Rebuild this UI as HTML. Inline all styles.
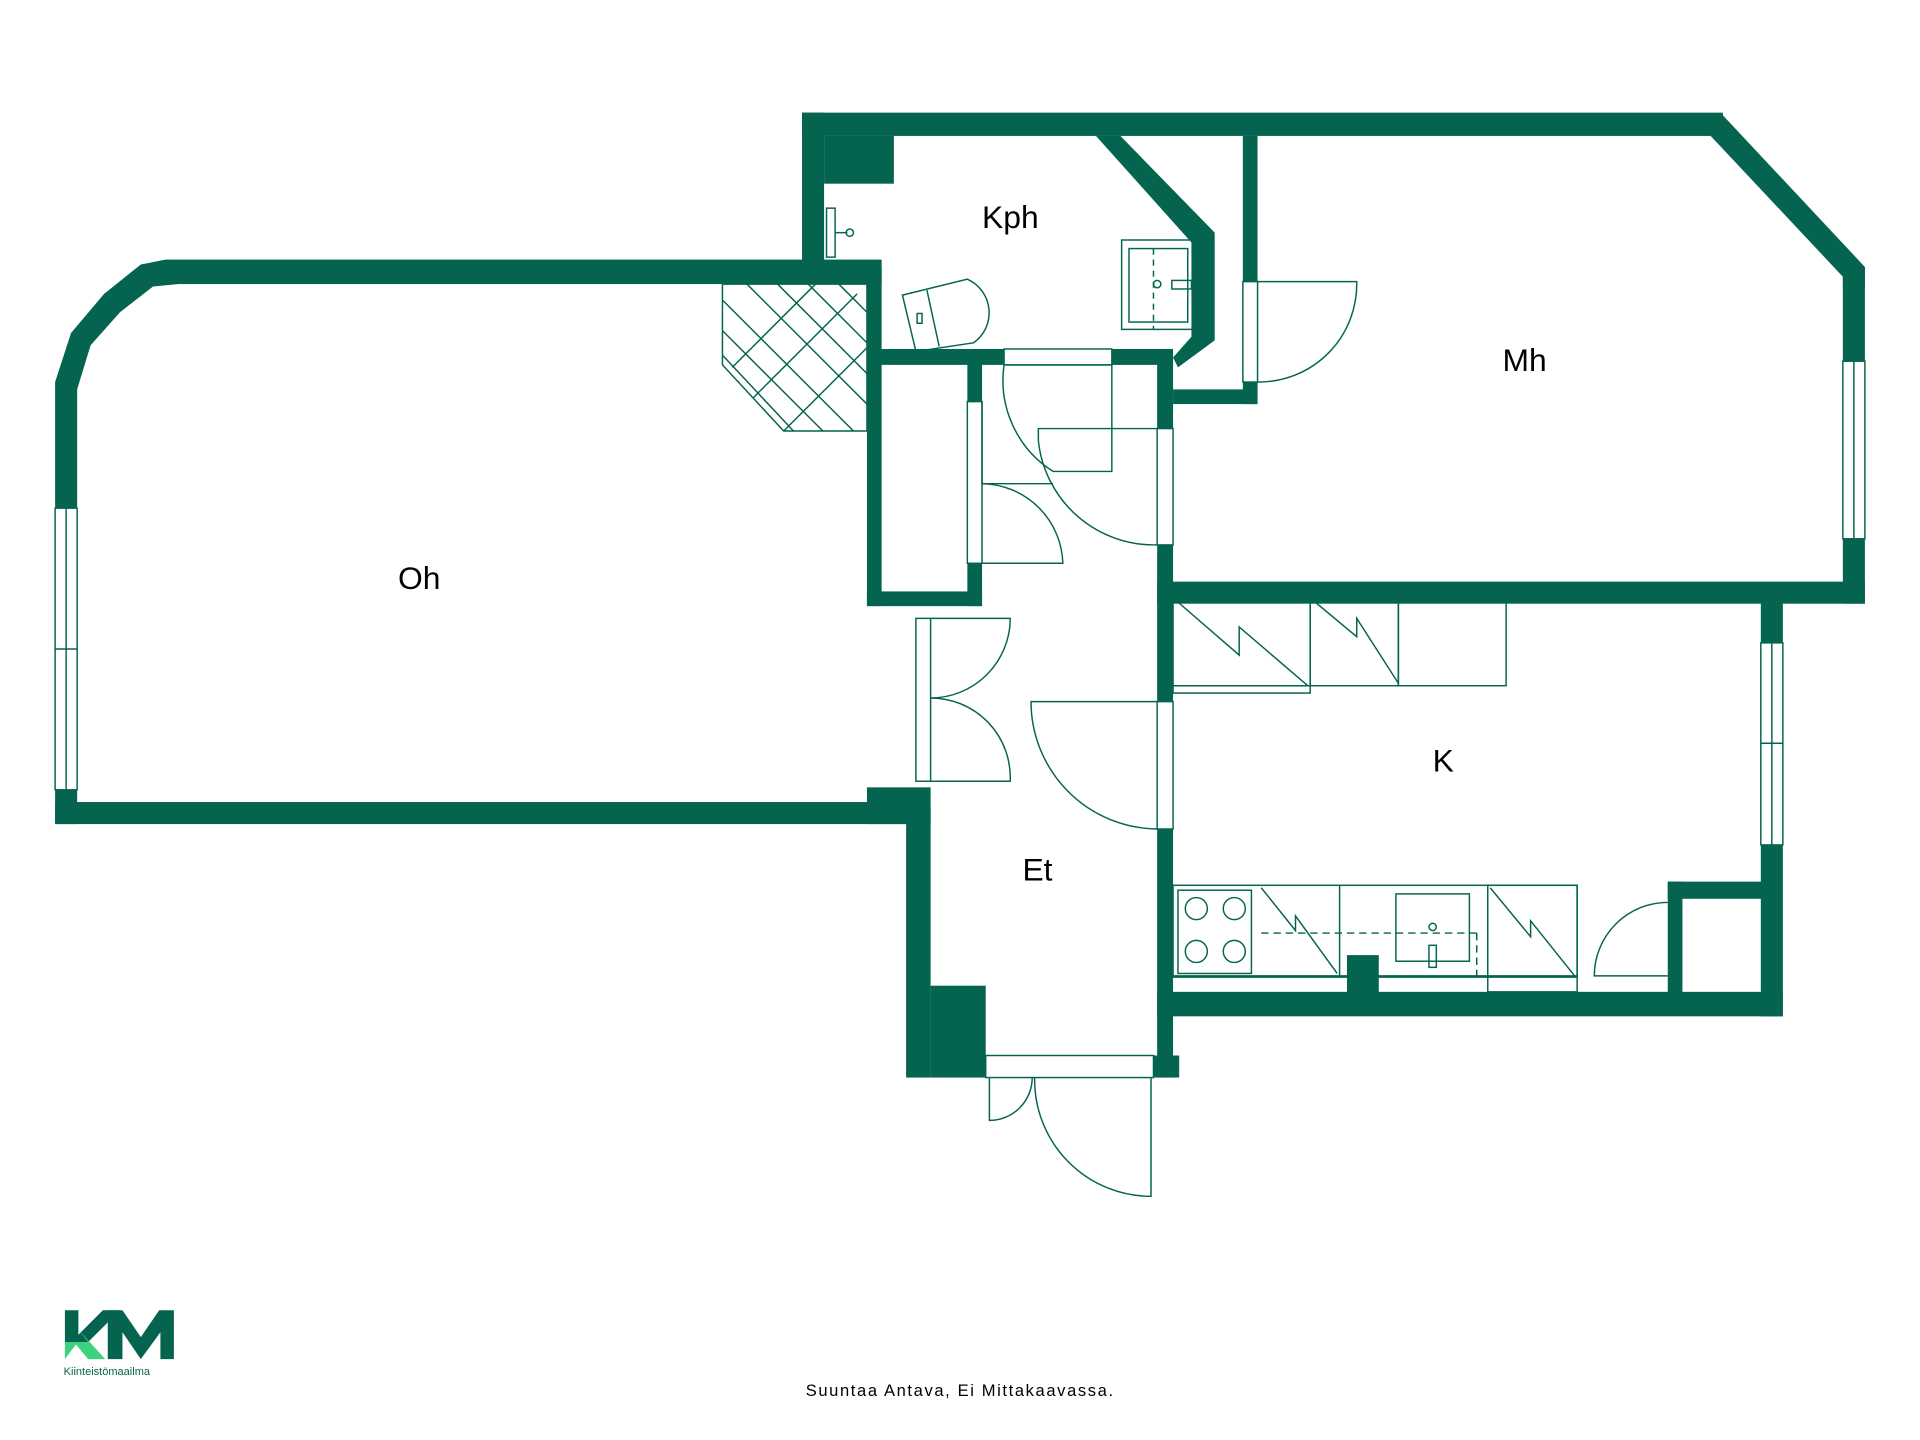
<!DOCTYPE html>
<html><head><meta charset="utf-8"><style>html,body{margin:0;padding:0;background:#fff}svg{display:block}</style></head>
<body>
<svg width="1920" height="1440" viewBox="0 0 1568 1176" xmlns="http://www.w3.org/2000/svg">
<g fill="#05644f">
<rect x="655" y="92" width="752" height="19"/>
<polygon points="1405,92 1523,218 1523,236 1505,236 1505,226 1397,111"/>
<rect x="1505" y="218" width="18" height="275"/>
<rect x="945" y="475" width="578" height="18"/>
<rect x="1438" y="488" width="18" height="342"/>
<rect x="945" y="810" width="511" height="20"/>
<rect x="1362" y="720" width="80" height="14"/>
<rect x="1362" y="720" width="12" height="95"/>
<rect x="1100" y="780" width="26" height="35"/>
<rect x="740" y="660" width="20" height="220"/>
<rect x="760" y="805" width="45" height="75"/>
<rect x="942" y="862" width="21" height="18"/>
<rect x="945" y="290" width="13" height="590"/>
<rect x="135" y="212" width="585" height="20"/>
<path d="M135,212 L115,216 L85,240 L58,272 L45,312 L63,318 L74,282 L98,255 L125,234 L145,232 Z"/>
<rect x="45" y="312" width="18" height="361"/>
<rect x="45" y="655" width="700" height="18"/>
<rect x="708" y="643" width="52" height="30"/>
<rect x="708" y="218" width="12" height="277"/>
<rect x="708" y="483" width="94" height="12"/>
<rect x="790" y="285" width="12" height="210"/>
<rect x="655" y="92" width="18" height="126"/>
<rect x="673" y="111" width="57" height="39"/>
<rect x="708" y="285" width="112" height="13"/>
<rect x="908" y="285" width="50" height="13"/>
<polygon points="895,111 915,111 992,190 992,278 962,300 958,292 973,275 973,198"/>
<rect x="1015" y="111" width="12" height="219"/>
<rect x="958" y="318" width="69" height="12"/>
</g>
<g fill="#fff" stroke="#05644f" stroke-width="1.2">
<rect x="1505" y="295" width="18" height="145"/><line x1="1514" y1="295" x2="1514" y2="440"/>
<rect x="1438" y="525" width="18" height="165"/><line x1="1447" y1="525" x2="1447" y2="690"/><line x1="1438" y1="607" x2="1456" y2="607"/>
<rect x="45" y="415" width="18" height="230"/><line x1="54" y1="415" x2="54" y2="645"/><line x1="45" y1="530" x2="63" y2="530"/>
<rect x="945" y="350" width="13" height="95"/>
<rect x="945" y="573" width="13" height="104"/>
<rect x="1015" y="230" width="12" height="82"/>
<rect x="820" y="285" width="88" height="13"/>
<rect x="790" y="328" width="12" height="132"/>
<rect x="748" y="505" width="12" height="133"/>
<rect x="805" y="862" width="137" height="18"/>
</g>
<g fill="none" stroke="#05644f" stroke-width="1.2">
<path d="M1027,230 L1108,230 A80,80 0 0 1 1027,312"/>
<path d="M945,350 L848,350 L848,360 A95,95 0 0 0 945,445"/>
<path d="M820,298 L908,298 L908,385 L860,385 A88,88 0 0 1 820,298"/>
<path d="M802,328 L802,395 L860,395"/>
<path d="M802,395 A67,67 0 0 1 868,460 L802,460"/>
<path d="M760,505 L825,505 A65,65 0 0 1 760,570 A65,65 0 0 1 825,638 L760,638"/>
<path d="M945,573 L842,573 A104,104 0 0 0 945,677"/>
<path d="M808,880 L808,915 A35,35 0 0 0 843,880"/>
<path d="M845,880 L845,880 A95,95 0 0 0 940,977 L940,880"/>
<path d="M1362,797 L1302,797 A60,60 0 0 1 1362,737"/>
<polygon points="590,232 708,232 708,352 640,352 590,298"/>
<path d="M590,245 L697,352 M590,270 L672,352 M610,232 L708,330 M635,232 L708,305 M660,232 L708,280 M685,232 L708,255 M590,290 L648,352 M640,352 L708,284 M615,325 L700,240 M598,300 L666,232"/>
<rect x="958" y="488" width="112" height="78"/><line x1="958" y1="560" x2="1070" y2="560"/>
<path d="M960,490 L1012,535 L1012,512 L1068,560"/>
<rect x="1070" y="488" width="72" height="72"/><path d="M1072,490 L1108,520 L1108,505 L1142,558"/>
<rect x="1142" y="488" width="88" height="72"/>
<rect x="958" y="723" width="330" height="75"/>
<line x1="958" y1="797" x2="1288" y2="797"/>
<rect x="962" y="727" width="60" height="68"/>
<circle cx="977" cy="742" r="9"/><circle cx="1008" cy="742" r="9"/><circle cx="977" cy="777" r="9"/><circle cx="1008" cy="777" r="9"/>
<path d="M1030,725 L1058,760 L1058,748 L1092,795"/><line x1="1094" y1="723" x2="1094" y2="797"/>
<rect x="1140" y="730" width="60" height="55"/><circle cx="1170" cy="757" r="3"/><rect x="1167" y="772" width="6" height="18"/>
<line x1="1030" y1="762" x2="1206" y2="762" stroke-dasharray="6,4"/><line x1="1206" y1="762" x2="1206" y2="797" stroke-dasharray="6,4"/>
<rect x="1215" y="723" width="73" height="87"/><path d="M1217,725 L1250,765 L1250,752 L1286,797"/>
<rect x="916" y="196" width="60" height="73"/><rect x="922" y="203" width="48" height="60"/>
<line x1="942" y1="203" x2="942" y2="269" stroke-dasharray="5,4"/><circle cx="945" cy="232" r="3"/><rect x="957" y="229" width="16" height="7"/>
<path d="M737,241 L790,228 A30,30 0 0 1 795,280 L748,287 Z"/><line x1="757" y1="237" x2="767" y2="283"/><rect x="749" y="256" width="4" height="8"/>
<rect x="675" y="170" width="7" height="40"/><line x1="682" y1="190" x2="692" y2="190"/><circle cx="694" cy="190" r="3"/>
</g>
<g font-family="'Liberation Sans',sans-serif" fill="#000" font-size="26">
<text x="802" y="186">Kph</text>
<text x="1227" y="303">Mh</text>
<text x="325" y="481">Oh</text>
<text x="1170" y="630">K</text>
<text x="835" y="719">Et</text>
<text x="658" y="1140" font-size="13.5" textLength="251" lengthAdjust="spacing">Suuntaa Antava, Ei Mittakaavassa.</text>
</g>
<g>
<polygon points="53,1070 64,1070 64,1090 84,1070 98,1070 72,1096 53,1096" fill="#05644f"/>
<polygon points="53,1096 72,1096 64,1086 86,1110 72,1110 62,1098 53,1110" fill="#3ed17f"/>
<polygon points="88,1070 100,1070 115,1092 130,1070 142,1070 142,1110 131,1110 131,1088 115,1110 100,1088 100,1110 88,1110" fill="#05644f"/>
<text x="52" y="1123" font-family="'Liberation Sans',sans-serif" font-size="9" fill="#05644f">Kiinteistömaailma</text>
</g>
</svg>
</body></html>
